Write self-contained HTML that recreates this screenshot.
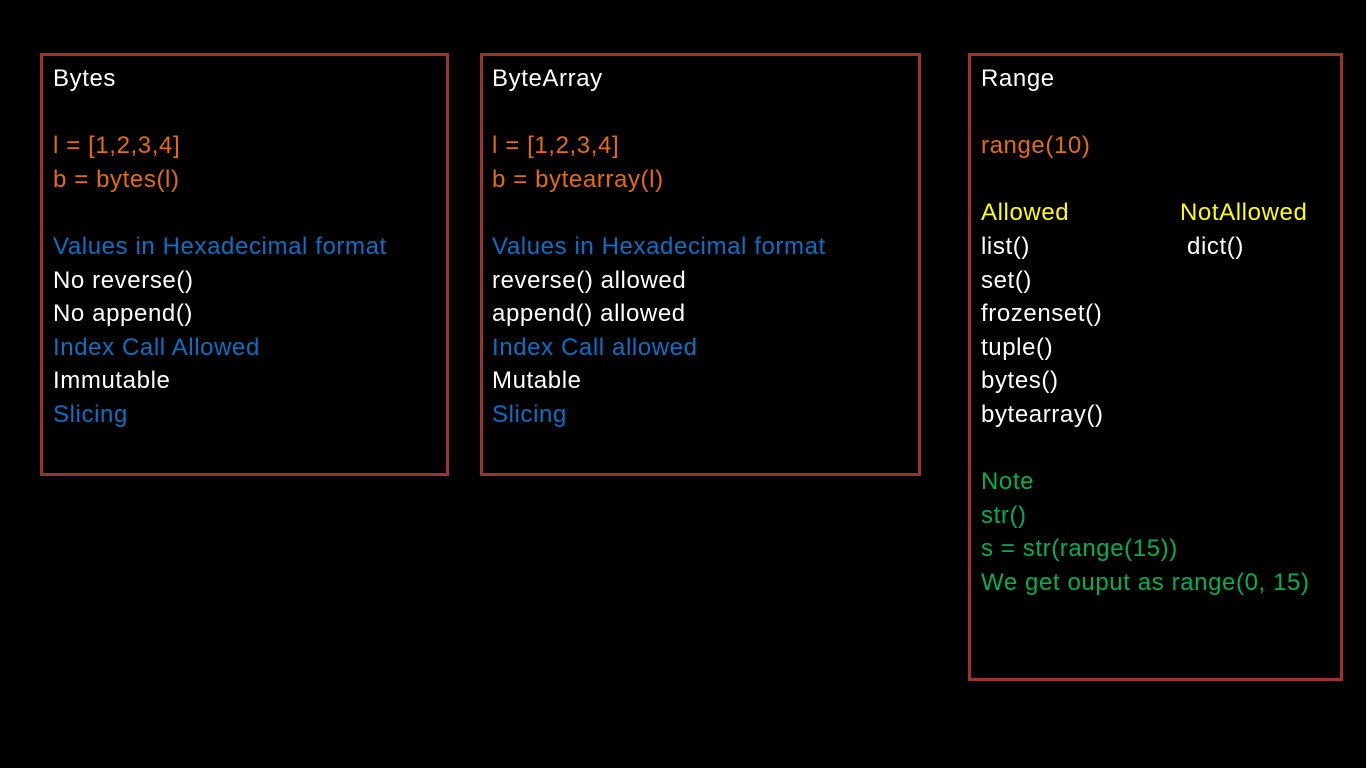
<!DOCTYPE html>
<html><head><meta charset="utf-8"><style>
html,body{margin:0;padding:0;background:#000;width:1366px;height:768px;overflow:hidden}
.box{position:absolute;border:3px solid #9b3431;box-sizing:border-box}
.t{position:absolute;font-family:"Liberation Sans",Arial,sans-serif;font-size:24px;letter-spacing:0.6px;line-height:33.6px;white-space:pre;color:#fff}
.o{color:#e46c0a}.b{color:#0a70c4}.g{color:#00b050}.y{color:#ffff00}
</style></head><body>
<div class="box" style="left:40px;top:53px;width:409px;height:423px"></div>
<div class="box" style="left:480px;top:53px;width:441px;height:423px"></div>
<div class="box" style="left:968px;top:53px;width:375px;height:628px"></div>

<div class="t" style="left:53px;top:62px">Bytes
 
<span class="o">l = [1,2,3,4]</span>
<span class="o">b = bytes(l)</span>
 
<span class="b">Values in Hexadecimal format</span>
No reverse()
No append()
<span class="b">Index Call Allowed</span>
Immutable
<span class="b">Slicing</span></div>

<div class="t" style="left:492px;top:62px">ByteArray
 
<span class="o">l = [1,2,3,4]</span>
<span class="o">b = bytearray(l)</span>
 
<span class="b">Values in Hexadecimal format</span>
reverse() allowed
append() allowed
<span class="b">Index Call allowed</span>
Mutable
<span class="b">Slicing</span></div>

<div class="t" style="left:981px;top:62px">Range
 
<span class="o">range(10)</span>
 
<span class="y">Allowed</span>
list()
set()
frozenset()
tuple()
bytes()
bytearray()
 
<span class="g">Note</span>
<span class="g">str()</span>
<span class="g">s = str(range(15))</span>
<span class="g">We get ouput as range(0, 15)</span></div>
<div class="t y" style="left:1180px;top:196px">NotAllowed</div>
<div class="t" style="left:1187px;top:230px">dict()</div>
</body></html>
